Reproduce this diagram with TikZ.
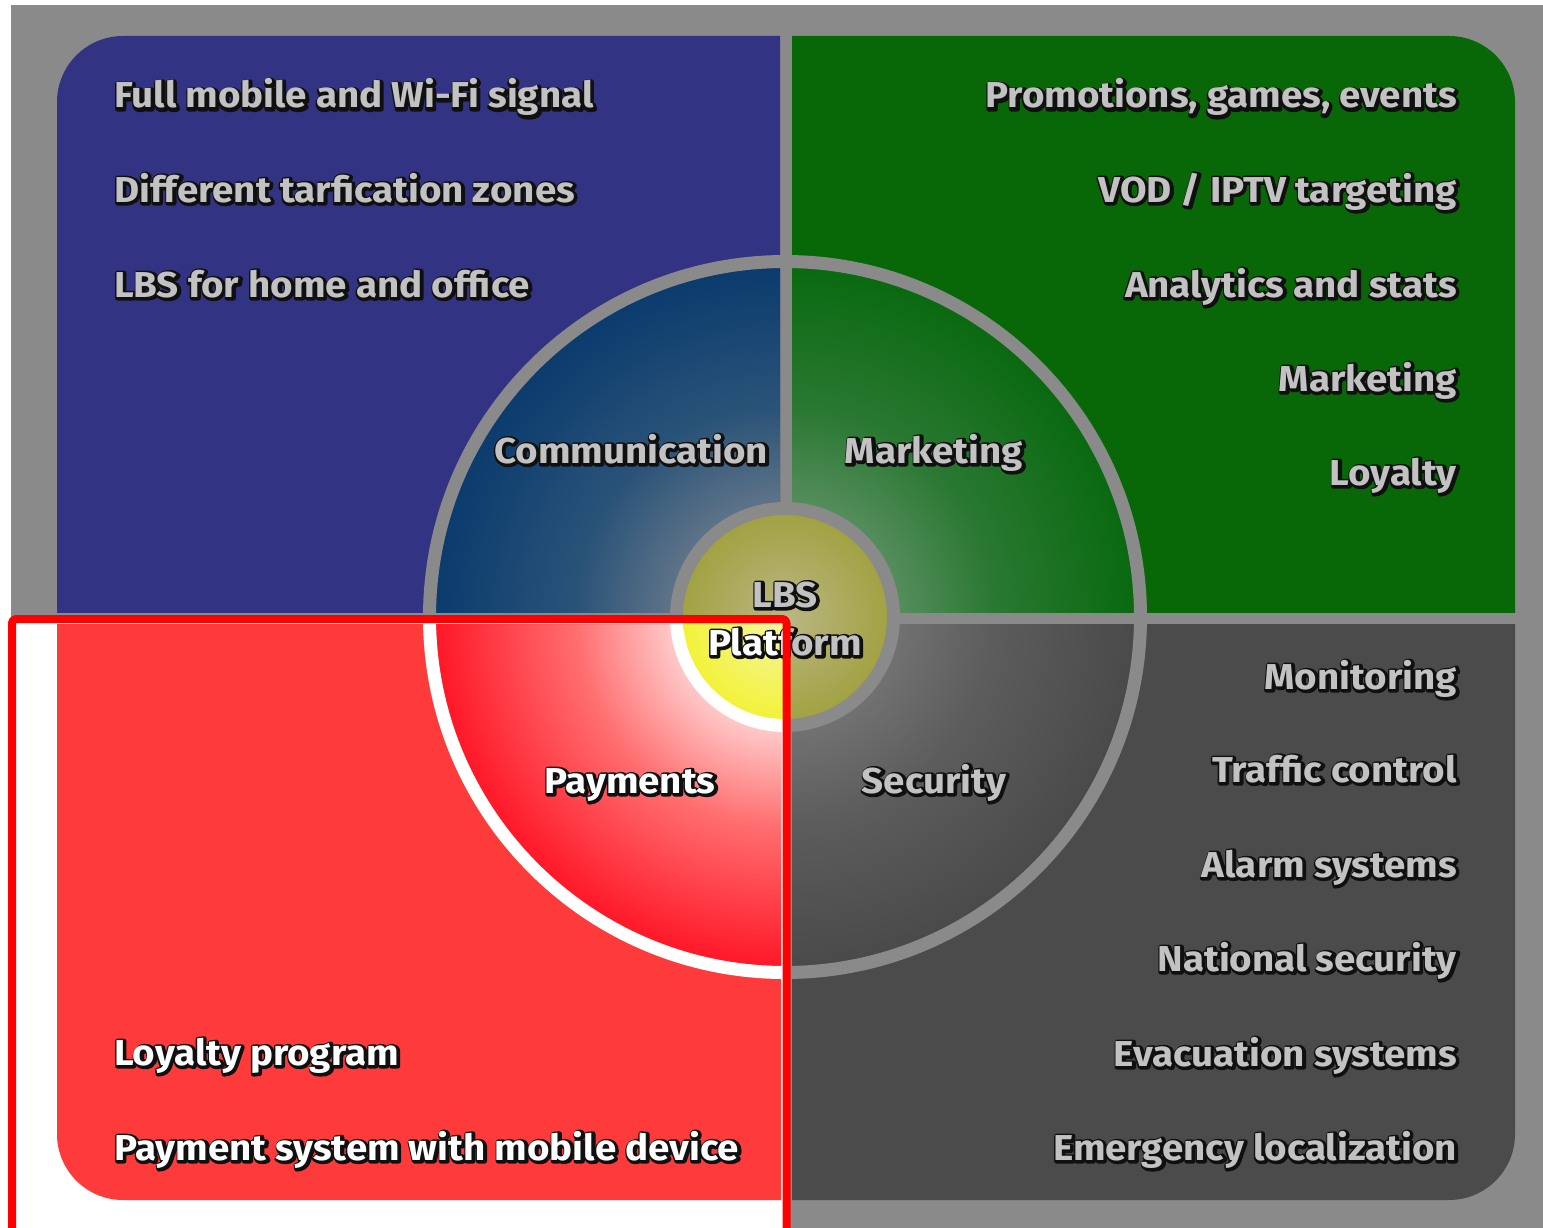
\documentclass[tikz,border=0pt]{standalone}
\usepackage{fontspec}
\setmainfont{Fira Sans}[FakeStretch=1.07]
\newfontfamily\shadowface{Fira Sans}[FakeStretch=1.07, FakeBold=14]

\definecolor{bgray}{HTML}{8A8A8A}
\definecolor{qblue}{HTML}{333384}
\definecolor{qgreen}{HTML}{086808}
\definecolor{qgray}{HTML}{4B4B4B}
\definecolor{qred}{HTML}{FF3A3A}
\definecolor{dimtext}{HTML}{C2C2C2}
\definecolor{halo}{HTML}{101010}
\definecolor{hiframe}{HTML}{FF0000}

\definecolor{commIn}{HTML}{5E7388}
\definecolor{commMid}{HTML}{2A5378}
\definecolor{commOut}{HTML}{0B3C6E}
\definecolor{mktIn}{HTML}{558D5C}
\definecolor{mktMid}{HTML}{2A7832}
\definecolor{mktOut}{HTML}{0A6A10}
\definecolor{secIn}{HTML}{717171}
\definecolor{secMid}{HTML}{5C5C5C}
\definecolor{secOut}{HTML}{4A4A4A}
\definecolor{payIn}{HTML}{FFC8C8}
\definecolor{payMid}{HTML}{FF6E70}
\definecolor{payOut}{HTML}{FF1828}
\definecolor{lbsDimIn}{HTML}{BAB783}
\definecolor{lbsDimOut}{HTML}{A2A244}
\definecolor{lbsHiIn}{HTML}{F6F6A8}
\definecolor{lbsHiOut}{HTML}{F2F23A}

% radial shadings: the path's radius corresponds to 25bp,
% 8.2bp is the inner ring (115 of 349)
\pgfdeclareradialshading{commshade}{\pgfpoint{0bp}{0bp}}{color(0bp)=(commIn); color(8.2bp)=(commIn); color(15bp)=(commMid); color(25bp)=(commOut); color(50bp)=(commOut)}
\pgfdeclareradialshading{mktshade}{\pgfpoint{0bp}{0bp}}{color(0bp)=(mktIn); color(8.2bp)=(mktIn); color(15bp)=(mktMid); color(25bp)=(mktOut); color(50bp)=(mktOut)}
\pgfdeclareradialshading{secshade}{\pgfpoint{0bp}{0bp}}{color(0bp)=(secIn); color(8.2bp)=(secIn); color(15bp)=(secMid); color(25bp)=(secOut); color(50bp)=(secOut)}
\pgfdeclareradialshading{payshade}{\pgfpoint{0bp}{0bp}}{color(0bp)=(payIn); color(8.2bp)=(payIn); color(15bp)=(payMid); color(25bp)=(payOut); color(50bp)=(payOut)}
\pgfdeclareradialshading{lbsdim}{\pgfpoint{0bp}{0bp}}{color(0bp)=(lbsDimIn); color(25bp)=(lbsDimOut); color(50bp)=(lbsDimOut)}
\pgfdeclareradialshading{lbsbright}{\pgfpoint{0bp}{0bp}}{color(0bp)=(lbsHiIn); color(25bp)=(lbsHiOut); color(50bp)=(lbsHiOut)}

% dark outline halo behind label text, nudged down-right
\newcommand\txtglow[1]{%
  \rlap{\shadowface\bfseries\color{halo}\kern0.9pt\raisebox{-1.1pt}{#1}}#1}

\tikzset{
  lbl/.style={font=\bfseries\fontsize{36}{40}\selectfont, inner sep=0pt, text=dimtext},
  lblL/.style={lbl, anchor=base west},
  lblR/.style={lbl, anchor=base east},
  lblC/.style={lbl, anchor=base},
  lit/.style={text=white},
  hiframe/.style={draw=hiframe, line width=8, rounded corners=4},
}

\begin{document}
\begin{tikzpicture}[x=1pt,y=1pt,yscale=-1,line join=round,line cap=round]
\clip (0,0) rectangle (1543,1228);
\fill[white] (0,0) rectangle (1543,1228);
\fill[bgray] (11,5) rectangle (1543,1228);
\coordinate (c) at (785,617);

% four quadrants: outer panel piece plus the ring sector
\begin{scope}
  \clip (57,36) rectangle (780,612);
  \fill[qblue, rounded corners=66] (57,36) rectangle (1515,1200);
  \shade[shading=commshade] (c) circle (349);
\end{scope}
\begin{scope}
  \clip (792,36) rectangle (1515,612);
  \fill[qgreen, rounded corners=66] (57,36) rectangle (1515,1200);
  \shade[shading=mktshade] (c) circle (349);
\end{scope}
\begin{scope}
  \clip (792,624) rectangle (1515,1200);
  \fill[qgray, rounded corners=66] (57,36) rectangle (1515,1200);
  \shade[shading=secshade] (c) circle (349);
\end{scope}

% rings and hub
\draw[bgray, line width=13] (c) circle (355.5);
\fill[bgray] (c) circle (115);
\shade[shading=lbsdim] (c) circle (102);

% blue panel
\node[lblL] (comm1) at (114,108) {\txtglow{Full mobile and Wi-Fi signal}};
\node[lblL] (comm2) at (114,202) {\txtglow{Different tarfication zones}};
\node[lblL] (comm3) at (114,297) {\txtglow{LBS for home and office}};
% green panel
\node[lblR] (mkt1) at (1457,108) {\txtglow{Promotions, games, events}};
\node[lblR] (mkt2) at (1457,202) {\txtglow{VOD / IPTV targeting}};
\node[lblR] (mkt3) at (1457,297) {\txtglow{Analytics and stats}};
\node[lblR] (mkt4) at (1457,391) {\txtglow{Marketing}};
\node[lblR] (mkt5) at (1457,485) {\txtglow{Loyalty}};
% gray panel
\node[lblR] (sec1) at (1457,689) {\txtglow{Monitoring}};
\node[lblR] (sec2) at (1457,782) {\txtglow{Traffic control}};
\node[lblR] (sec3) at (1457,877) {\txtglow{Alarm systems}};
\node[lblR] (sec4) at (1457,971) {\txtglow{National security}};
\node[lblR] (sec5) at (1457,1066) {\txtglow{Evacuation systems}};
\node[lblR] (sec6) at (1457,1160) {\txtglow{Emergency localization}};
% ring sectors and hub
\node[lblC] (communication) at (631,463) {\txtglow{Communication}};
\node[lblC] (marketing) at (934,463) {\txtglow{Marketing}};
\node[lblC] (security) at (934,793) {\txtglow{Security}};
\node[lblC] (lbs) at (785,607) {\txtglow{LBS}};
\node[lblC] (platform) at (785,655) {\txtglow{Platform}};

% highlighted payments quadrant
\begin{scope}
  \clip (16,623) rectangle (783,1228);
  \fill[white] (16,623) rectangle (783,1228);
  \begin{scope}
    \clip (57,624) rectangle (781,1200);
    \fill[qred, rounded corners=66] (57,36) rectangle (1515,1200);
    \shade[shading=payshade] (c) circle (349);
  \end{scope}
  \draw[white, line width=13] (c) circle (355.5);
  \fill[white] (c) circle (115);
  \shade[shading=lbsbright] (c) circle (102);
  \node[lblC, lit] (payments) at (630,793) {\txtglow{Payments}};
  \node[lblC, lit] (platformHi) at (785,655) {\txtglow{Platform}};
  \node[lblL, lit] (pay1) at (114,1065) {\txtglow{Loyalty program}};
  \node[lblL, lit] (pay2) at (114,1160) {\txtglow{Payment system with mobile device}};
\end{scope}
\draw[hiframe] (12,1240) -- (12,619) -- (786.5,619) -- (786.5,1240);
\end{tikzpicture}
\end{document}
